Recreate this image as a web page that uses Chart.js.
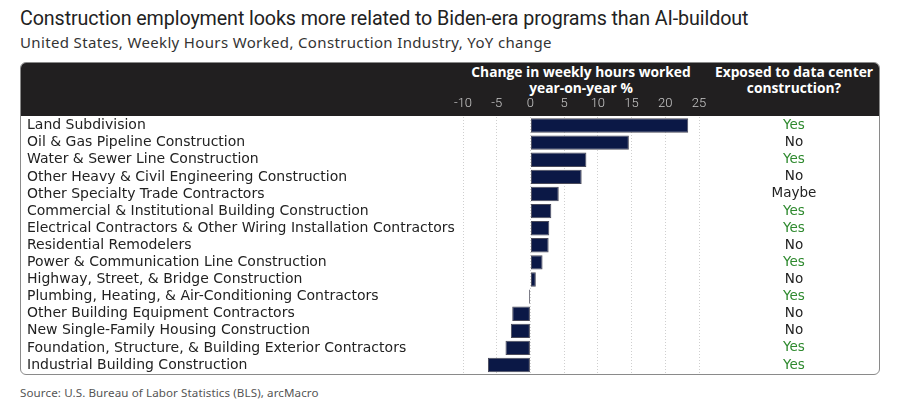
<!DOCTYPE html>
<html>
<head>
<meta charset="utf-8">
<script src="https://cdn.jsdelivr.net/npm/chart.js@4"></script>
<style>
  html, body { margin: 0; padding: 0; background: #fff; }
  body { width: 900px; height: 407px; position: relative; overflow: hidden; font-family: "Noto Sans", sans-serif; }
  #title { position: absolute; left: 20px; top: 7px; font-family: Roboto, sans-serif; font-size: 19.7px; color: #222; white-space: nowrap; letter-spacing: -0.1px; }
  #subtitle { position: absolute; left: 20px; top: 32px; font-family: "Noto Sans", sans-serif; font-size: 15px; color: #333; white-space: nowrap; letter-spacing: 0.35px; }
  #box { position: absolute; left: 20px; top: 62px; width: 858px; height: 311px; border: 1px solid #8a8a8a; border-radius: 6px; overflow: hidden; }
  #header { position: absolute; left: 0; top: 0; width: 100%; height: 53px; background: #211f20; }
  .htxt { position: absolute; color: #fff; font-family: "Open Sans", sans-serif; font-weight: 700; font-size: 13.8px; line-height: 16px; text-align: center; white-space: nowrap; }
  #h1 { left: 440px; width: 240px; top: 1px; }
  #h2 { left: 683px; width: 180px; top: 1px; }
  #c { position: absolute; left: 0; top: 0; }
  #source { position: absolute; left: 20px; top: 385px; font-family: "Noto Sans", sans-serif; font-size: 11.6px; color: #555; white-space: nowrap; letter-spacing: 0.1px; }
</style>
</head>
<body>
<div id="title">Construction employment looks more related to Biden-era programs than AI-buildout</div>
<div id="subtitle">United States, Weekly Hours Worked, Construction Industry, YoY change</div>
<div id="box">
  <div id="header">
    <div class="htxt" id="h1">Change in weekly hours worked<br>year-on-year %</div>
    <div class="htxt" id="h2">Exposed to data center<br>construction?</div>
  </div>
  <canvas id="c" width="858" height="319" style="width:858px;height:319px"></canvas>
</div>
<div id="source">Source: U.S. Bureau of Labor Statistics (BLS), arcMacro</div>
<script>
const categories = [
  "Land Subdivision",
  "Oil & Gas Pipeline Construction",
  "Water & Sewer Line Construction",
  "Other Heavy & Civil Engineering Construction",
  "Other Specialty Trade Contractors",
  "Commercial & Institutional Building Construction",
  "Electrical Contractors & Other Wiring Installation Contractors",
  "Residential Remodelers",
  "Power & Communication Line Construction",
  "Highway, Street, & Bridge Construction",
  "Plumbing, Heating, & Air-Conditioning Contractors",
  "Other Building Equipment Contractors",
  "New Single-Family Housing Construction",
  "Foundation, Structure, & Building Exterior Contractors",
  "Industrial Building Construction"
];
const yoyChange = [23.4, 14.6, 8.3, 7.6, 4.2, 3.1, 2.8, 2.7, 1.8, 0.8, -0.2, -2.7, -2.9, -3.7, -6.3];
const exposure = ["Yes", "No", "Yes", "No", "Maybe", "Yes", "Yes", "No", "Yes", "No", "Yes", "No", "No", "Yes", "Yes"];
const xTicks = [-10, -5, 0, 5, 10, 15, 20, 25];

const exposureColumn = {
  id: 'exposureColumn',
  afterDraw(chart) {
    const ctx = chart.ctx;
    const ys = chart.scales.y;
    const xc = chart.chartArea.right + 95;
    ctx.save();
    ctx.font = '13.5px "DejaVu Sans"';
    ctx.textAlign = 'center';
    ctx.textBaseline = 'middle';
    exposure.forEach((v, i) => {
      ctx.fillStyle = v === 'Yes' ? '#2f8a2f' : '#222';
      ctx.fillText(v, xc, ys.getPixelForValue(i));
    });
    ctx.restore();
  }
};

new Chart(document.getElementById('c'), {
  type: 'bar',
  data: {
    labels: categories,
    datasets: [{
      data: yoyChange,
      backgroundColor: '#0b1846',
      borderColor: '#4a4a5a',
      borderWidth: 1,
      borderSkipped: false,
      barPercentage: 0.84,
      categoryPercentage: 1.0
    }]
  },
  plugins: [exposureColumn],
  options: {
    indexAxis: 'y',
    responsive: false,
    animation: false,
    layout: { autoPadding: false, padding: { left: 6, right: 180, top: 0, bottom: 0 } },
    plugins: { legend: { display: false }, tooltip: { enabled: false }, title: { display: false } },
    scales: {
      x: {
        position: 'top',
        min: -10, max: 25,
        afterBuildTicks: s => { s.ticks = xTicks.map(v => ({ value: v })); },
        afterFit: s => { s.height = 54; },
        ticks: { color: '#c8c8c8', font: { family: 'Roboto', weight: '300', size: 13 }, padding: 5, autoSkip: false, maxRotation: 0 },
        grid: { color: '#cfcfcf', drawTicks: false, lineWidth: 1 },
        border: { display: false, dash: [1, 2] }
      },
      y: {
        position: 'left',
        afterFit: s => { s.width = 436; },
        ticks: { color: '#222', font: { family: 'DejaVu Sans', size: 14 }, crossAlign: 'far', padding: 0, autoSkip: false },
        grid: { display: false, drawTicks: false },
        border: { display: false }
      }
    }
  }
});
</script>
</body>
</html>
